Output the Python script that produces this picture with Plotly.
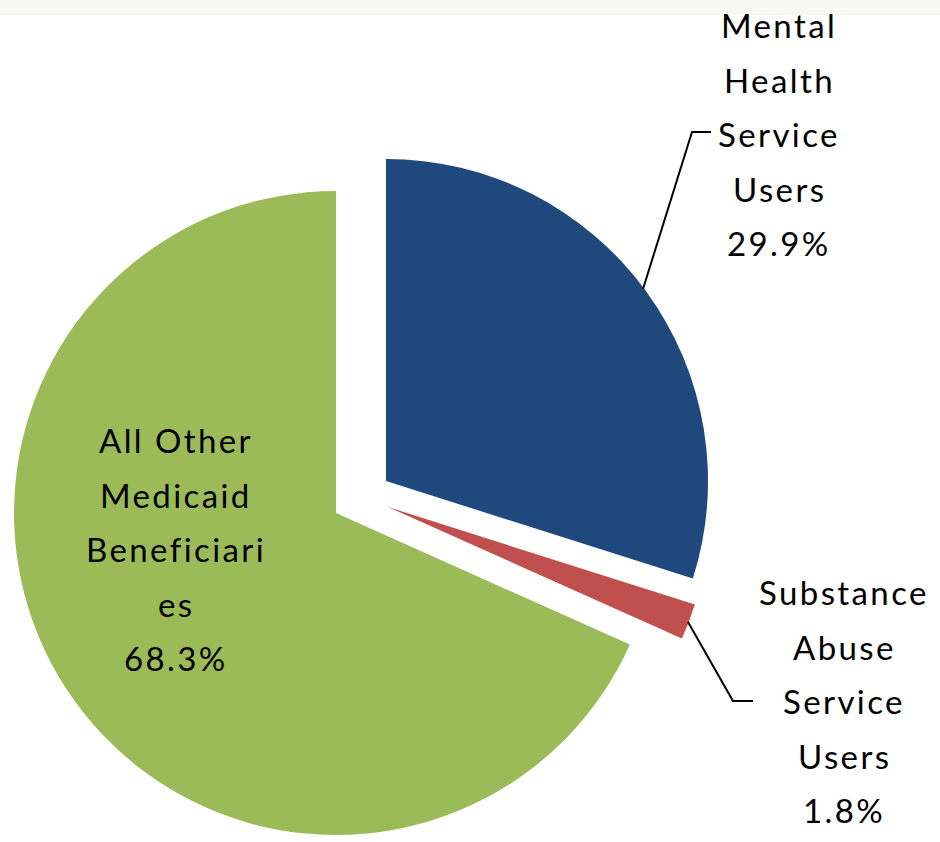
import plotly.graph_objects as go

# ---- data ----
categories = ["Mental Health Service Users", "Substance Abuse Service Users",
              "All Other Medicaid Beneficiaries"]
values = [29.9, 1.8, 68.3]
label_lines = [["Mental", "Health", "Service", "Users"],
               ["Substance", "Abuse", "Service", "Users"],
               ["All Other", "Medicaid", "Beneficiari", "es"]]

# ---- styling / layout ----
colors = ["#1F497D", "#C0504D", "#9BBB59"]
W, H = 940, 842
R = 322
# pixel centre of each (exploded) slice
centers = [(386, 481), (388, 507), (336, 513)]
# label anchors (centre x, first line y) and line spacing in pixels
label_pos = [(779, 25), (844, 592), (176, 440)]
LINE = 54.5
FONT = dict(family="Lato, Calibri, sans-serif", size=33, color="black")


def px(x, y):
    return x / W, 1 - y / H


fig = go.Figure()
for i, (cx, cy) in enumerate(centers):
    cols = [c if j == i else "rgba(0,0,0,0)" for j, c in enumerate(colors)]
    x0, y1 = px(cx - R, cy - R)
    x1, y0 = px(cx + R, cy + R)
    fig.add_trace(go.Pie(
        labels=categories, values=values, sort=False, direction="clockwise",
        rotation=0, marker=dict(colors=cols, line=dict(width=0)),
        textinfo="none", hoverinfo="skip", showlegend=False,
        domain=dict(x=[x0, x1], y=[y0, y1]),
    ))

annotations = []
for i, (lx, ly) in enumerate(label_pos):
    lines = label_lines[i] + [f"{values[i]}%"]
    for k, t in enumerate(lines):
        ax, ay = px(lx, ly + k * LINE)
        annotations.append(dict(text=f'<span style="letter-spacing:2.4px">{t}</span>',
                                x=ax, y=ay, xref="paper", yref="paper",
                                xanchor="center", yanchor="middle",
                                showarrow=False, font=FONT))

shapes = []
x0, y0 = px(0, 15)
shapes.append(dict(type="rect", xref="paper", yref="paper", x0=0, x1=1, y0=y0, y1=1,
                   fillcolor="#F8F8F3", line=dict(width=0), layer="below"))

leaders = [[(643, 289), (692, 132), (711, 132)],
           [(688, 622), (733, 701), (753, 701)]]
for pts in leaders:
    path = ""
    for k, (x, y) in enumerate(pts):
        fx, fy = px(x, y)
        path += ("M" if k == 0 else " L") + f"{fx},{fy}"
    shapes.append(dict(type="path", xref="paper", yref="paper", path=path,
                       line=dict(color="black", width=2)))

fig.update_layout(width=W, height=H, margin=dict(l=0, r=0, t=0, b=0),
                  paper_bgcolor="white", plot_bgcolor="white",
                  annotations=annotations, shapes=shapes, showlegend=False)

fig.write_html("out.html", config={"displayModeBar": False},
               post_script="document.body.style.margin='0';document.body.style.overflow='hidden';")
